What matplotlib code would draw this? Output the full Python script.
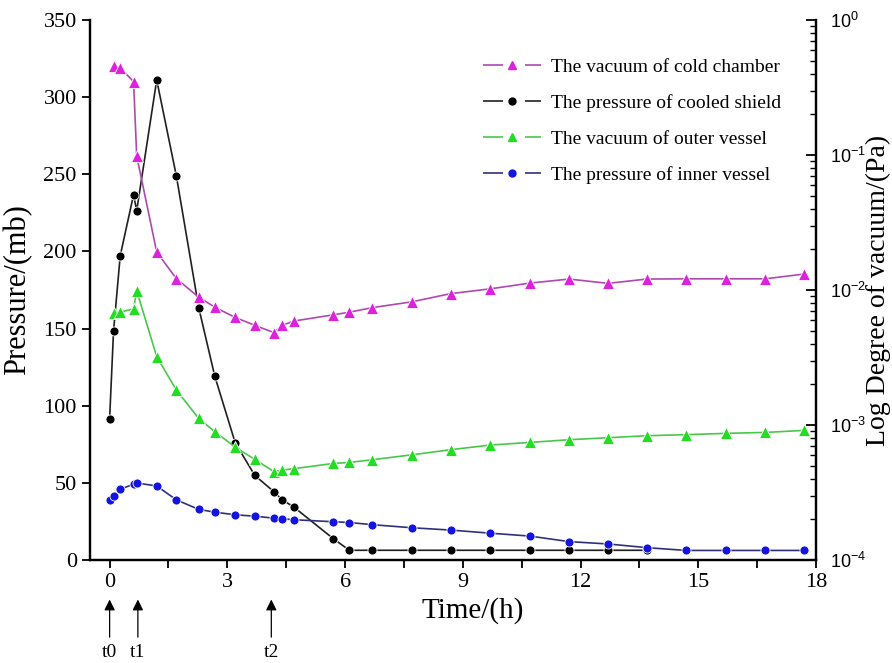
import math
import matplotlib
matplotlib.use("Agg")
import matplotlib.pyplot as plt
from matplotlib.lines import Line2D
from matplotlib.ticker import LogLocator, FixedLocator, FuncFormatter, NullFormatter

# ---------------- data ----------------
t_shield = [0, 0.10, 0.27, 0.61, 0.69, 1.20, 1.70, 2.27, 2.68, 3.20, 3.70, 4.19, 4.39, 4.70,
            5.70, 6.11, 6.69, 7.70, 8.69, 9.69, 10.71, 11.71, 12.70, 13.69]
p_shield = [91.7, 148.4, 197.2, 236.7, 226.4, 311.1, 249.0, 163.6, 119.1, 76.0, 54.8, 44.2, 39.2, 34.2,
            13.8, 6.3, 6.3, 6.3, 6.3, 6.3, 6.3, 6.3, 6.3, 6.3]

t_inner = [0, 0.10, 0.27, 0.61, 0.69, 1.20, 1.70, 2.27, 2.68, 3.20, 3.70, 4.19, 4.39, 4.70,
           5.70, 6.11, 6.69, 7.70, 8.69, 9.69, 10.71, 11.71, 12.70, 13.69, 14.69, 15.70, 16.71, 17.70]
p_inner = [39.2, 41.8, 45.9, 49.1, 49.9, 48.0, 39.0, 32.8, 31.0, 29.3, 28.4, 27.1, 26.7, 26.1,
           24.8, 24.3, 22.9, 20.9, 19.4, 17.4, 15.5, 11.9, 10.4, 8.0, 6.2, 6.2, 6.2, 6.2]

t_vac = [0.10, 0.27, 0.61, 0.69, 1.20, 1.70, 2.27, 2.68, 3.20, 3.70, 4.19, 4.39, 4.70,
         5.70, 6.11, 6.69, 7.70, 8.69, 9.69, 10.71, 11.71, 12.70, 13.69, 14.69, 15.70, 16.71, 17.70]
v_cold = [0.456, 0.441, 0.350, 0.0984, 0.0191, 0.01214, 0.00885, 0.00746, 0.00626, 0.00547, 0.00483,
          0.00547, 0.00589, 0.00655, 0.00685, 0.00740, 0.00817, 0.00940, 0.01019, 0.01125, 0.01205,
          0.0112, 0.01205, 0.0121, 0.0121, 0.0121, 0.01313]
v_outer = [0.00671, 0.00686, 0.00724, 0.00988, 0.00321, 0.001815, 0.001119, 0.000892, 0.000686,
           0.000556, 0.000451, 0.000463, 0.000475, 0.000519, 0.000528, 0.000553, 0.000601, 0.000656,
           0.000710, 0.000743, 0.000778, 0.000805, 0.000833, 0.000848, 0.000867, 0.000881, 0.000912]

labels = ["The vacuum of cold chamber", "The pressure of cooled shield",
          "The vacuum of outer vessel", "The pressure of inner vessel"]
x_ticks = [0, 3, 6, 9, 12, 15, 18]
y_ticks = [0, 50, 100, 150, 200, 250, 300, 350]
events = [("t0", 0.0), ("t1", 0.72), ("t2", 4.12)]

# ---------------- style ----------------
SERIF = ["Liberation Serif", "DejaVu Serif"]
plt.rcParams["font.family"] = SERIF

c_cold_m, c_cold_l = "#dd22dd", "#b048b0"
c_sh_m, c_sh_l = "#000000", "#202020"
c_out_m, c_out_l = "#22dd22", "#48c848"
c_in_m, c_in_l = "#1414e0", "#30307a"

fig = plt.figure(figsize=(8.92, 6.63), dpi=100)
ax = fig.add_axes([90 / 892, 103 / 663, 726 / 892, 540 / 663])
ax2 = ax.twinx()

lw = 1.2
ax.plot(t_shield, p_shield, color=c_sh_l, lw=lw, marker="o", ms=6.5, mfc=c_sh_m,
        mec="white", mew=0.6, zorder=3)
ax.plot(t_inner, p_inner, color=c_in_l, lw=lw, marker="o", ms=6.5, mfc=c_in_m,
        mec="white", mew=0.6, zorder=3)
ax2.plot(t_vac, v_cold, color=c_cold_l, lw=lw, marker="^", ms=8, mfc=c_cold_m,
         mec="white", mew=0.6, zorder=3)
ax2.plot(t_vac, v_outer, color=c_out_l, lw=lw, marker="^", ms=8, mfc=c_out_m,
         mec="white", mew=0.6, zorder=3)

ax.set_xlim(-0.5, 18)
ax.set_ylim(0, 350)
ax2.set_yscale("log")
ax2.set_ylim(1e-4, 1e0)

ax.set_xticks(x_ticks)
ax.xaxis.set_minor_locator(FixedLocator([1.5, 4.5, 7.5, 10.5, 13.5, 16.5]))
ax.set_yticks(y_ticks)
ax.tick_params(axis="both", which="major", direction="out", length=6, width=1.3,
               labelsize=16)
ax.tick_params(axis="x", which="minor", direction="out", length=6, width=1.3)
ax.tick_params(axis="y", which="both", right=False)

ax2.yaxis.set_major_locator(LogLocator(base=10, numticks=10))
ax2.yaxis.set_minor_locator(LogLocator(base=10, subs=range(2, 10), numticks=20))
ax2.yaxis.set_minor_formatter(NullFormatter())


def fmt(v, pos):
    e = int(round(math.log10(v)))
    return r"$\mathregular{10^{%d}}$" % e


ax2.yaxis.set_major_formatter(FuncFormatter(fmt))
ax2.tick_params(axis="y", which="major", direction="in", length=7, width=1.3, labelsize=13, pad=10)
ax2.tick_params(axis="y", which="minor", direction="in", length=4, width=1.0)
for lab in ax2.get_yticklabels():
    lab.set_fontfamily(["Liberation Sans", "DejaVu Sans"])

for a in (ax, ax2):
    a.spines["top"].set_visible(False)
    for s in ("left", "right", "bottom"):
        a.spines[s].set_linewidth(1.6)

ax.set_xlabel("Time/(h)", fontsize=21)
ax.xaxis.set_label_coords((473 - 90) / 726, -0.068)
ax.set_ylabel("Pressure/(mb)", fontsize=22, labelpad=8)
ax2.set_ylabel("Log Degree of vacuum/(Pa)", fontsize=20)
ax2.yaxis.set_label_coords((866 - 90) / 726, 0.5)

# event arrows below the axis
for name, tx in events:
    ax.annotate("", xy=(tx, -0.068), xycoords=ax.get_xaxis_transform(),
                xytext=(tx, -0.148), textcoords=ax.get_xaxis_transform(),
                arrowprops=dict(arrowstyle="-|>", color="black", lw=0.9, mutation_scale=16),
                annotation_clip=False)
    ax.text(tx, -0.172, name, transform=ax.get_xaxis_transform(), ha="center", va="center",
            fontsize=14)


# legend: line - marker - line with gaps
def handle(lc, mc, marker, ms):
    return Line2D([], [], color=lc, lw=lw, dashes=(12, 13.2), marker=marker, ms=ms,
                  mfc=mc, mec=mc)


handles = [handle(c_cold_l, c_cold_m, "^", 6), handle(c_sh_l, c_sh_m, "o", 5),
           handle(c_out_l, c_out_m, "^", 6), handle(c_in_l, c_in_m, "o", 5)]
leg = ax2.legend(handles, labels, numpoints=1,
                 loc="upper left", bbox_to_anchor=((483 - 90) / 726, (560 - 58) / 540),
                 frameon=False, fontsize=14, handlelength=3.0, handletextpad=0.5,
                 labelspacing=0.94, borderpad=0, borderaxespad=0)
leg.set_zorder(5)

fig.savefig("out.png", dpi=100)
